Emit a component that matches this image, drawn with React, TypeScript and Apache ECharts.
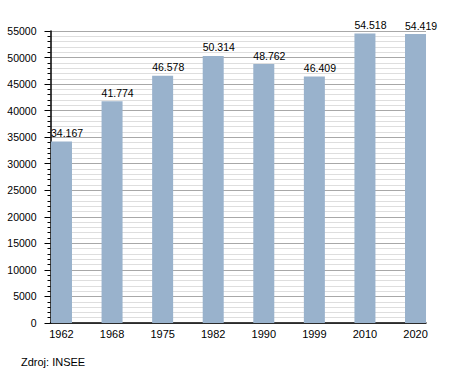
import React, { useEffect, useRef } from "react";
import * as echarts from "echarts";

const years = ["1962", "1968", "1975", "1982", "1990", "1999", "2010", "2020"];
const population = [34167, 41774, 46578, 50314, 48762, 46409, 54518, 54419];
const yMax = 55000;
const yInterval = 5000;
const sourceText = "Zdroj: INSEE";

const fmt = (v: number) => {
  const s = String(Math.round(v));
  return s.replace(/\B(?=(\d{3})+(?!\d))/g, ".");
};

export default function App() {
  const ref = useRef<HTMLDivElement>(null);
  useEffect(() => {
    if (!ref.current) return;
    const chart = echarts.init(ref.current, null, { renderer: "svg" });
    const font = "'Liberation Sans', Arial, sans-serif";
    chart.setOption({
      animation: false,
      backgroundColor: "#ffffff",
      textStyle: { fontFamily: font },
      grid: [
        { left: 50.5, right: 29, top: 31, height: 292 },
        { left: 36.2, right: 14.2, top: 31, height: 292 },
      ],
      xAxis: [
        {
          gridIndex: 0,
          type: "category",
          data: years,
          axisLine: { show: true, lineStyle: { color: "#000", width: 1.5 } },
          axisTick: { show: false },
          axisLabel: { show: false },
          splitLine: { show: false },
        },
        {
          gridIndex: 1,
          type: "category",
          data: years,
          axisLine: { show: false },
          axisTick: { show: false },
          axisLabel: { color: "#000", fontSize: 11, margin: 5, fontFamily: font },
          splitLine: { show: false },
        },
      ],
      yAxis: [
        {
          gridIndex: 0,
          type: "value",
          min: 0,
          max: yMax,
          interval: yInterval,
          axisLine: { show: true, lineStyle: { color: "#000", width: 1.5 } },
          axisTick: { show: true, length: 6, lineStyle: { color: "#000" } },
          minorTick: { show: true, splitNumber: 5, length: 3, lineStyle: { color: "#000" } },
          axisLabel: {
            color: "#000",
            fontSize: 10.5,
            margin: 14,
            fontFamily: font,
            formatter: (v: number) => String(v),
          },
          splitLine: { show: true, lineStyle: { color: "#a8a8a8", width: 1 } },
          minorSplitLine: { show: true, lineStyle: { color: "#dedede", width: 1 } },
        },
        {
          gridIndex: 1,
          type: "value",
          min: 0,
          max: yMax,
          show: false,
        },
      ],
      series: [
        {
          type: "bar",
          xAxisIndex: 1,
          yAxisIndex: 1,
          data: population,
          barWidth: 21,
          itemStyle: { color: "#99b2cc" },
          label: {
            show: true,
            position: "top",
            align: "left",
            offset: [-10.5, 0],
            distance: 3,
            color: "#000",
            fontSize: 10.5,
            fontFamily: font,
            formatter: (p: any) => fmt(p.value),
          },
          z: 3,
        },
      ],
      graphic: [
        {
          type: "text",
          left: 21,
          top: 356,
          style: { text: sourceText, fill: "#000", font: `11px ${font}` },
        },
      ],
    });
    return () => chart.dispose();
  }, []);
  return <div ref={ref} style={{ width: 455, height: 373, position: "absolute", left: 0, top: 0 }} />;
}
